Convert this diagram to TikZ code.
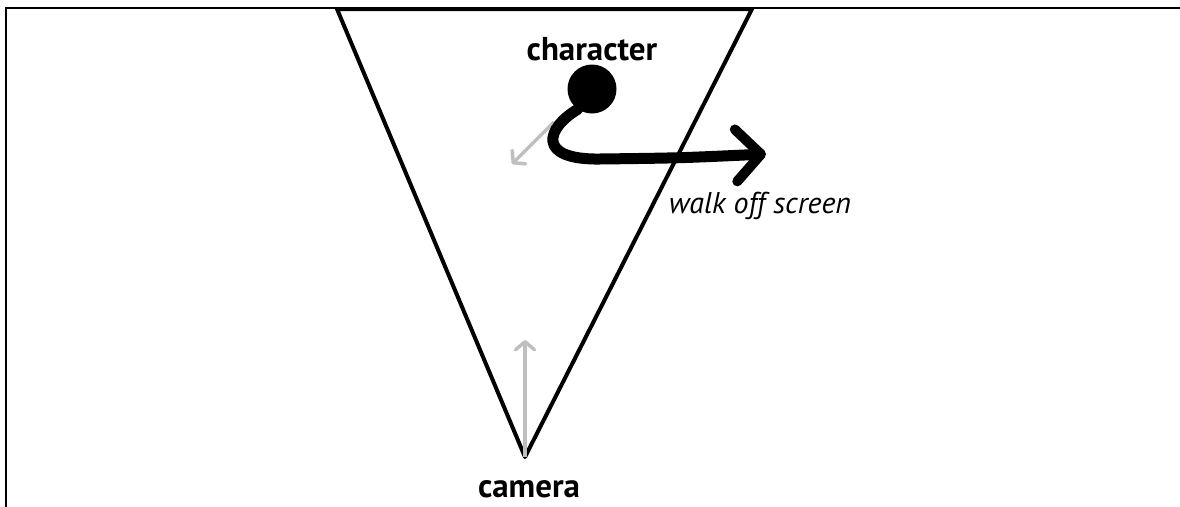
\documentclass[tikz,border=0pt]{standalone}
\usepackage{fontspec}
\setmainfont{PT Sans}
\usetikzlibrary{arrows.meta,positioning}
\tikzset{
  frameline/.style = {line width=2.5pt, line cap=rect},
  viewcone/.style  = {line width=4pt, line join=round, line cap=round},
  facing/.style    = {draw=black!25, line width=3.5pt,
                      -{Straight Barb[round, length=8pt, width=19pt]}},
  walkpath/.style  = {line width=11pt, line cap=round,
                      -{Straight Barb[round, length=25pt, width=52pt, line width=10pt]}},
  boldlabel/.style = {font=\bfseries\fontsize{33}{36}\selectfont, inner sep=0pt},
}

\begin{document}
\begin{tikzpicture}[x=1pt,y=-1pt]

  \useasboundingbox (0,0) rectangle (1180,506);

  % Frame
  \draw[frameline] (6,506) -- (6,8) -- (1180,8);

  % View cone
  \coordinate (coneL) at (337,9);
  \coordinate (coneR) at (752,9);
  \coordinate (cam) at (525,457);
  \draw[viewcone] (coneL) -- (coneR) -- (cam) -- cycle;

  % Camera facing
  \coordinate (camfront) at (525,340);
  \draw[facing] (cam) -- (camfront);
  \node[boldlabel, anchor=base] (camlabel) at (529,497) {camera};

  % Character
  \node[circle, fill=black, minimum size=49pt, inner sep=0pt] (character) at (592,89) {};
  \node[boldlabel, anchor=base] (charlabel) at (592,60) {character};

  % Character facing
  \coordinate (charback) at (554,122);
  \coordinate (charfront) at (512,164);
  \draw[facing] (charback) -- (charfront);

  % Walk path
  \coordinate (walkend) at (766,154);
  \draw[walkpath] (character.235) .. controls (546,128) and (536,160) .. (600,159)
    .. controls (680,158) .. (walkend);
  \node[font=\itshape\fontsize{30}{34}\selectfont, inner sep=0pt, anchor=base] (walklabel)
    at (760,213) {walk off screen};

\end{tikzpicture}
\end{document}
